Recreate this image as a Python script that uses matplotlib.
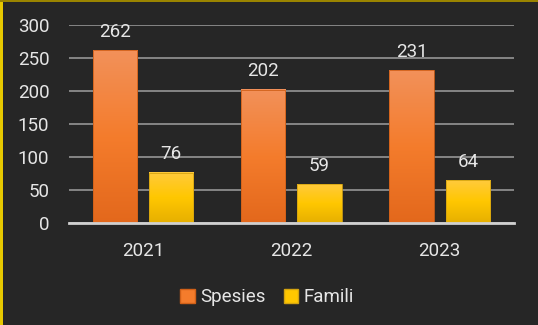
import numpy as np
import matplotlib
matplotlib.use("Agg")
import matplotlib.pyplot as plt
from matplotlib.colors import LinearSegmentedColormap
from matplotlib.patches import Patch, Rectangle

plt.rcParams['font.family'] = ['Roboto', 'DejaVu Sans']

years = ["2021", "2022", "2023"]
spesies = [262, 202, 231]
famili = [76, 59, 64]

BG = "#262626"
TXT = "#E6E6E6"
FS = 13.5

orange_cmap = LinearSegmentedColormap.from_list("og", ["#E3681C", "#F47C2C", "#F2915A"])
yellow_cmap = LinearSegmentedColormap.from_list("yl", ["#E6AF00", "#FFC700", "#FFCA3C"])

fig = plt.figure(figsize=(5.38, 3.25), dpi=100, facecolor=BG)
ax = fig.add_axes([0.128, 0.315, 0.827, 0.608])
ax.set_facecolor(BG)

x = np.arange(len(years))
w = 0.30
off = 0.19
grad = np.linspace(0, 1, 256).reshape(-1, 1)


def gradient_bars(xs, vals, cmap, edge):
    for xc, v in zip(xs, vals):
        x0, x1 = xc - w / 2, xc + w / 2
        ax.imshow(grad, extent=(x0, x1, 0, v), origin="lower", aspect="auto",
                  cmap=cmap, zorder=3)
        ax.add_patch(Rectangle((x0, 0), w, v, fill=False, edgecolor=edge,
                               linewidth=0.6, zorder=4))
        ax.text(xc, v + 14, str(v), ha="center", va="bottom", color=TXT,
                fontsize=FS, zorder=5)


gradient_bars(x - off, spesies, orange_cmap, "#D06018")
gradient_bars(x + off, famili, yellow_cmap, "#D4A410")

ax.set_xlim(-0.5, len(years) - 0.5)
ax.set_ylim(0, 300)
ax.set_yticks(range(0, 301, 50))
ax.set_xticks(x, years)
ax.yaxis.grid(True, color="#8C8C8C", linewidth=1.3, zorder=0)
ax.set_axisbelow(True)
for s in ["top", "right", "left"]:
    ax.spines[s].set_visible(False)
ax.spines["bottom"].set_color("#D0D0D0")
ax.spines["bottom"].set_linewidth(2)
ax.spines["bottom"].set_zorder(6)
ax.tick_params(axis="both", length=0, colors=TXT, labelsize=FS)
ax.tick_params(axis="y", pad=14)
ax.tick_params(axis="x", pad=14)

handles = [Patch(facecolor="#F47C2C", edgecolor="#D06018", label="Spesies"),
           Patch(facecolor="#FFC700", edgecolor="#D4A410", label="Famili")]
fig.legend(handles=handles, loc="center", bbox_to_anchor=(0.497, 0.085), ncol=2,
           frameon=False, fontsize=FS, labelcolor=TXT, handlelength=0.75,
           handleheight=0.75, handletextpad=0.3, columnspacing=1.0)

# yellow frame along the left and top edges
fig.patches.append(Rectangle((0, 0), 0.006, 1, transform=fig.transFigure,
                             facecolor="#E6C800", edgecolor="none"))
fig.patches.append(Rectangle((0, 0.994), 1, 0.006, transform=fig.transFigure,
                             facecolor="#9A8400", edgecolor="none"))

fig.savefig("out.png", dpi=100, facecolor=BG)
